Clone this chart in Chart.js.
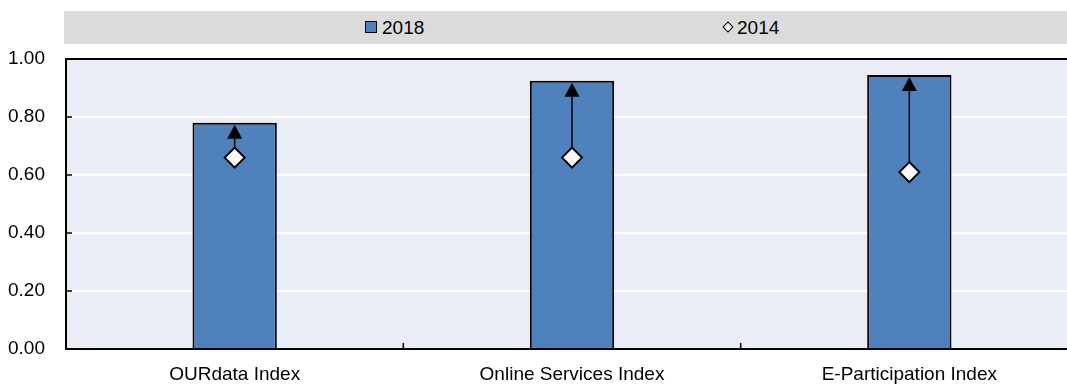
<!DOCTYPE html>
<html>
<head>
<meta charset="utf-8">
<script src="https://cdn.jsdelivr.net/npm/chart.js@4"></script>
<style>
  html, body { margin: 0; width: 1067px; height: 388px; overflow: hidden; background: #fff; font-family: "Liberation Sans Narrow", "Arial Narrow", "Liberation Sans", Arial, sans-serif; }
  #wrap { position: relative; width: 1067px; height: 388px; overflow: hidden; }
  #band { position: absolute; left: 64px; top: 11px; width: 1003px; height: 33px; background: #dbdbdb; z-index: 2; }
  .item { position: absolute; top: 0; height: 33px; line-height: 33px; font-size: 19px; color: #000; }
  .sq { position: absolute; width: 10px; height: 10px; background: #4f81bd; border: 1.5px solid #000; top: 10px; left: 0; }
  .dm { position: absolute; width: 6px; height: 6px; background: #fff; border: 1.5px solid #000; top: 12px; left: 1px; transform: rotate(45deg); }
  #chart { position: absolute; left: 0; top: 0; }
</style>
</head>
<body>
<div id="wrap">
  <div id="band">
    <div class="item" style="left:301px"><span class="sq"></span><span style="margin-left:17px">2018</span></div>
    <div class="item" style="left:659px"><span class="dm"></span><span style="margin-left:14px">2014</span></div>
  </div>
  <canvas id="chart" width="1078" height="388"></canvas>
</div>
<script>
// datos del gráfico
const categories = ["OURdata Index", "Online Services Index", "E-Participation Index"];
const values2018 = [0.78, 0.925, 0.945];
const values2014 = [0.66, 0.66, 0.61];
const yTickValues = [0, 0.2, 0.4, 0.6, 0.8, 1.0];

const FONT = { family: '"Liberation Sans Narrow", "Arial Narrow", "Liberation Sans", Arial, sans-serif', size: 19 };

// fondo del área, borde superior y marcas de los ejes
const framePlugin = {
  id: "frame",
  beforeDatasetsDraw(chart) {
    const { ctx, chartArea } = chart;
    const x = chart.scales.x, y = chart.scales.y;
    ctx.save();
    ctx.strokeStyle = "#000";
    ctx.lineWidth = 2;
    ctx.beginPath();
    ctx.moveTo(chartArea.left - 1, chartArea.top);
    ctx.lineTo(chartArea.right, chartArea.top);
    ctx.stroke();
    // marcas internas del eje Y
    ctx.lineWidth = 1.5;
    yTickValues.forEach((v) => {
      const py = y.getPixelForValue(v);
      ctx.beginPath();
      ctx.moveTo(chartArea.left, py);
      ctx.lineTo(chartArea.left + 6, py);
      ctx.stroke();
    });
    // marcas entre categorías en el eje X
    for (let i = 0; i < categories.length - 1; i++) {
      const px = (x.getPixelForValue(i) + x.getPixelForValue(i + 1)) / 2;
      ctx.beginPath();
      ctx.moveTo(px, chartArea.bottom);
      ctx.lineTo(px, chartArea.bottom - 6);
      ctx.stroke();
    }
    ctx.restore();
  },
  beforeDraw(chart) {
    const { ctx, chartArea } = chart;
    ctx.save();
    ctx.fillStyle = "#eaedf6";
    ctx.fillRect(chartArea.left, chartArea.top, chartArea.right - chartArea.left, chartArea.bottom - chartArea.top);
    ctx.restore();
  },
};

// flechas de 2014 a 2018
const arrowPlugin = {
  id: "arrows",
  afterDatasetDraw(chart, args) {
    if (args.index !== 0) return;
    const { ctx } = chart;
    const x = chart.scales.x, y = chart.scales.y;
    ctx.save();
    ctx.strokeStyle = "#000";
    ctx.fillStyle = "#000";
    ctx.lineWidth = 1.5;
    categories.forEach((c, i) => {
      const px = x.getPixelForValue(i);
      const yFrom = y.getPixelForValue(values2014[i]) - 10;
      const yTip = y.getPixelForValue(values2018[i]) + 2;
      const headH = 14, headW = 7.5;
      ctx.beginPath();
      ctx.moveTo(px, yFrom);
      ctx.lineTo(px, yTip + headH);
      ctx.stroke();
      ctx.beginPath();
      ctx.moveTo(px, yTip);
      ctx.lineTo(px - headW, yTip + headH);
      ctx.lineTo(px + headW, yTip + headH);
      ctx.closePath();
      ctx.fill();
    });
    ctx.restore();
  },
};

new Chart(document.getElementById("chart"), {
  data: {
    labels: categories,
    datasets: [
      {
        type: "bar",
        label: "2018",
        data: values2018,
        backgroundColor: "#4f81bd",
        borderColor: "#000",
        borderWidth: 2,
        barPercentage: 0.25,
        categoryPercentage: 1,
        order: 2,
      },
      {
        type: "line",
        label: "2014",
        data: values2014,
        showLine: false,
        pointStyle: "rectRot",
        pointRadius: 10,
        pointBackgroundColor: "#f8f8f8",
        pointBorderColor: "#000",
        pointBorderWidth: 2,
        order: 1,
      },
    ],
  },
  options: {
    responsive: false,
    animation: false,
    layout: { autoPadding: false, padding: { top: 59, right: 0, left: 0, bottom: 0 } },
    plugins: { legend: { display: false }, tooltip: { enabled: false } },
    scales: {
      x: {
        grid: { display: false, drawTicks: false },
        border: { color: "#000", width: 2 },
        ticks: { font: FONT, color: "#000", padding: 14, maxRotation: 0 },
        afterFit: (s) => { s.height = 39; },
      },
      y: {
        min: 0,
        max: 1,
        afterBuildTicks: (s) => { s.ticks = yTickValues.map((v) => ({ value: v })); },
        grid: { color: "#fff", lineWidth: 2, drawTicks: false },
        border: { color: "#000", width: 2 },
        ticks: { font: FONT, color: "#000", padding: 21, callback: (v) => Number(v).toFixed(2) },
        afterFit: (s) => { s.width = 66; },
      },
    },
  },
  plugins: [framePlugin, arrowPlugin],
});
</script>
</body>
</html>
